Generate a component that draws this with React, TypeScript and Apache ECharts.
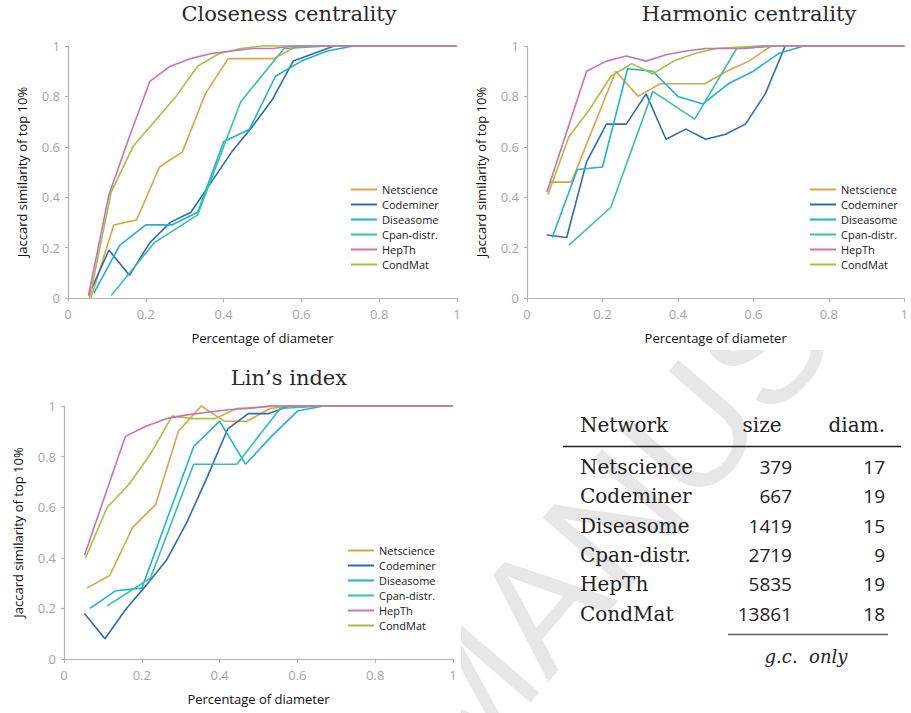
import React, { useEffect, useRef } from "react";
import * as echarts from "echarts";

// ---- Table data ----
const networks = ["Netscience", "Codeminer", "Diseasome", "Cpan-distr.", "HepTh", "CondMat"];
const sizes = [379, 667, 1419, 2719, 5835, 13861];
const diameters = [17, 19, 15, 9, 19, 18];
const colors = ["#D9A548", "#2E6BB5", "#1DB3D4", "#35C2A5", "#CF6FB8", "#A6C23E"];
const xTicks = [0, 0.2, 0.4, 0.6, 0.8, 1];

// ---- Closeness centrality (value at k/diameter, k = 1..diameter) ----
const closeNetscience = [0, 0.29, 0.31, 0.52, 0.58, 0.81, 0.95, 0.95, 0.95, 1, 1, 1, 1, 1, 1, 1, 1];
const closeCodeminer = [0.01, 0.19, 0.09, 0.22, 0.3, 0.34, 0.46, 0.58, 0.68, 0.79, 0.94, 0.97, 1, 1, 1, 1, 1, 1, 1];
const closeDiseasome = [0.02, 0.21, 0.29, 0.29, 0.34, 0.62, 0.67, 0.88, 0.94, 0.98, 1, 1, 1, 1, 1];
const closeCpan = [0.01, 0.22, 0.33, 0.78, 0.99, 1, 1, 1, 1];
const closeHepTh = [0.01, 0.41, 0.64, 0.86, 0.92, 0.95, 0.97, 0.98, 0.99, 0.99, 1, 1, 1, 1, 1, 1, 1, 1, 1];
const closeCondMat = [0, 0.42, 0.6, 0.7, 0.8, 0.92, 0.97, 0.99, 1, 1, 1, 1, 1, 1, 1, 1, 1, 1];

// ---- Harmonic centrality ----
const harmNetscience = [0.46, 0.46, 0.68, 0.9, 0.8, 0.85, 0.85, 0.85, 0.9, 0.94, 1, 1, 1, 1, 1, 1, 1];
const harmCodeminer = [0.25, 0.24, 0.54, 0.69, 0.69, 0.81, 0.63, 0.67, 0.63, 0.65, 0.69, 0.81, 1, 1, 1, 1, 1, 1, 1];
const harmDiseasome = [0.24, 0.51, 0.52, 0.91, 0.9, 0.8, 0.77, 0.85, 0.9, 0.97, 1, 1, 1, 1, 1];
const harmCpan = [0.21, 0.36, 0.82, 0.71, 0.99, 1, 1, 1, 1];
const harmHepTh = [0.42, 0.66, 0.9, 0.94, 0.96, 0.94, 0.965, 0.98, 0.99, 0.99, 0.99, 1, 1, 1, 1, 1, 1, 1, 1];
const harmCondMat = [0.41, 0.64, 0.75, 0.88, 0.93, 0.89, 0.94, 0.97, 0.99, 0.995, 1, 1, 1, 1, 1, 1, 1, 1];

// ---- Lin's index ----
const linNetscience = [0.28, 0.33, 0.52, 0.61, 0.9, 1.0, 0.94, 0.94, 0.99, 1, 1, 1, 1, 1, 1, 1, 1];
const linCodeminer = [0.18, 0.08, 0.195, 0.29, 0.39, 0.54, 0.72, 0.91, 0.97, 0.97, 1, 1, 1, 1, 1, 1, 1, 1, 1];
const linDiseasome = [0.2, 0.27, 0.28, 0.56, 0.84, 0.94, 0.77, 0.88, 0.98, 1, 1, 1, 1, 1, 1];
const linCpan = [0.21, 0.32, 0.77, 0.77, 0.99, 1, 1, 1, 1];
const linHepTh = [0.41, 0.645, 0.88, 0.92, 0.95, 0.965, 0.975, 0.985, 0.99, 1, 1, 1, 1, 1, 1, 1, 1, 1, 1];
const linCondMat = [0.4, 0.6, 0.69, 0.81, 0.96, 0.95, 0.95, 0.99, 0.995, 1, 1, 1, 1, 1, 1, 1, 1, 1];

const chartTitles = ["Closeness centrality", "Harmonic centrality", "Lin\u2019s index"];
const chartData = [
  [closeNetscience, closeCodeminer, closeDiseasome, closeCpan, closeHepTh, closeCondMat],
  [harmNetscience, harmCodeminer, harmDiseasome, harmCpan, harmHepTh, harmCondMat],
  [linNetscience, linCodeminer, linDiseasome, linCpan, linHepTh, linCondMat],
];

const AXIS = "#b3b3b3";
const LABEL = "#a6a6a6";
const SANS = "Open Sans";
const SERIF = "DejaVu Serif";

export default function App() {
  const ref = useRef<HTMLDivElement>(null);

  useEffect(() => {
    if (!ref.current) return;
    const chart = echarts.init(ref.current, undefined, { renderer: "svg" });

    const grids = [
      { left: 68, top: 46, width: 389, height: 252 },
      { left: 527, top: 46, width: 388, height: 252 },
      { left: 64, top: 406, width: 389, height: 253 },
    ];

    const xAxis = grids.map((_, i) => ({
      type: "value",
      gridIndex: i,
      min: xTicks[0],
      max: xTicks[xTicks.length - 1],
      interval: 0.2,
      name: "Percentage of diameter",
      nameLocation: "middle",
      nameGap: 33,
      nameTextStyle: { color: "#111", fontSize: 13, fontFamily: SANS },
      axisLine: { show: true, lineStyle: { color: AXIS, width: 1.2 } },
      axisTick: { show: true, length: 4, lineStyle: { color: AXIS, width: 1.2 } },
      axisLabel: { color: LABEL, fontSize: 13, margin: 9, fontFamily: SANS },
      splitLine: { show: false },
      z: 3,
    }));

    const yAxis = grids.map((_, i) => ({
      type: "value",
      gridIndex: i,
      min: 0,
      max: 1,
      interval: 0.2,
      name: "Jaccard similarity of top 10%",
      nameLocation: "middle",
      nameGap: 40,
      nameRotate: 90,
      nameTextStyle: { color: "#111", fontSize: 13, fontFamily: SANS },
      axisLine: { show: true, lineStyle: { color: AXIS, width: 1.2 } },
      axisTick: { show: true, length: 3, lineStyle: { color: AXIS, width: 1.2 } },
      axisLabel: { color: LABEL, fontSize: 13, margin: 8, fontFamily: SANS },
      splitLine: { show: false },
      z: 3,
    }));

    const legendPos = [
      { left: 351, top: 182 },
      { left: 810, top: 182 },
      { left: 348, top: 543 },
    ];

    const legend = legendPos.map((p) => ({
      orient: "vertical",
      left: p.left,
      top: p.top,
      padding: 0,
      icon: "rect",
      itemWidth: 26,
      itemHeight: 2,
      itemGap: 0,
      selectedMode: false,
      textStyle: { fontSize: 11, color: "#1a1a1a", lineHeight: 15, fontFamily: SANS },
      data: networks,
      z: 6,
    }));

    const series: any[] = [];
    chartData.forEach((set, ci) => {
      set.forEach((vals, si) => {
        series.push({
          type: "line",
          name: networks[si],
          xAxisIndex: ci,
          yAxisIndex: ci,
          data: vals.map((v, k) => [(k + 1) / diameters[si], v]),
          showSymbol: false,
          symbol: "none",
          clip: false,
          color: colors[si],
          lineStyle: { width: 1.6, color: colors[si] },
          itemStyle: { color: colors[si] },
          z: networks[si] === "HepTh" ? 5 : 4,
        });
      });
    });

    const titlePos = [
      { x: 289, y: 14 },
      { x: 749, y: 14 },
      { x: 289, y: 378 },
    ];

    const graphic: any[] = [];
    // watermark
    graphic.push({
      type: "text",
      x: 608,
      y: 526,
      rotation: 0.86,
      z: 0,
      silent: true,
      style: {
        text: "MANUS",
        fontSize: 162,
        fontFamily: "Liberation Sans",
        fill: "#e7e7e7",
        align: "center",
        verticalAlign: "middle",
      },
    });
    // white panels (charts sit above the watermark)
    graphic.push({ type: "rect", z: 1, silent: true, shape: { x: 0, y: 362, width: 461, height: 351 }, style: { fill: "#fff" } });
    graphic.push({ type: "rect", z: 1, silent: true, shape: { x: 470, y: 0, width: 441, height: 350 }, style: { fill: "#fff" } });

    chartTitles.forEach((t, i) => {
      graphic.push({
        type: "text",
        x: titlePos[i].x,
        y: titlePos[i].y,
        z: 10,
        style: { text: t, fontSize: 21, fontFamily: SERIF, fill: "#2a2a2a", align: "center", verticalAlign: "middle" },
      });
    });

    // table
    const rowY0 = 467;
    const rowStep = 29.3;
    const nameX = 580;
    const sizeRight = 792;
    const diamRight = 885;
    graphic.push({ type: "text", x: nameX, y: 425, z: 10, style: { text: "Network", fontSize: 20, fontFamily: SERIF, fill: "#222", align: "left", verticalAlign: "middle" } });
    graphic.push({ type: "text", x: 762, y: 425, z: 10, style: { text: "size", fontSize: 20, fontFamily: SERIF, fill: "#222", align: "center", verticalAlign: "middle" } });
    graphic.push({ type: "text", x: diamRight, y: 425, z: 10, style: { text: "diam.", fontSize: 20, fontFamily: SERIF, fill: "#222", align: "right", verticalAlign: "middle" } });
    graphic.push({ type: "line", z: 10, shape: { x1: 563, y1: 446.5, x2: 901, y2: 446.5 }, style: { stroke: "#222", lineWidth: 1.3 } });
    networks.forEach((n, i) => {
      const y = rowY0 + i * rowStep;
      graphic.push({ type: "text", x: nameX, y, z: 10, style: { text: n, fontSize: 20, fontFamily: SERIF, fill: "#222", align: "left", verticalAlign: "middle" } });
      graphic.push({ type: "text", x: sizeRight, y, z: 10, style: { text: String(sizes[i]), fontSize: 19, fontFamily: SANS, fill: "#222", align: "right", verticalAlign: "middle" } });
      graphic.push({ type: "text", x: diamRight, y, z: 10, style: { text: String(diameters[i]), fontSize: 19, fontFamily: SANS, fill: "#222", align: "right", verticalAlign: "middle" } });
    });
    graphic.push({ type: "line", z: 10, shape: { x1: 728, y1: 634.5, x2: 888, y2: 634.5 }, style: { stroke: "#666", lineWidth: 1.3 } });
    graphic.push({ type: "text", x: 806, y: 656, z: 10, style: { text: "g.c.  only", fontSize: 18, fontStyle: "italic", fontFamily: SERIF, fill: "#222", align: "center", verticalAlign: "middle" } });

    chart.setOption({
      animation: false,
      backgroundColor: "#ffffff",
      grid: grids,
      xAxis,
      yAxis,
      legend,
      series,
      graphic,
    });

    return () => chart.dispose();
  }, []);

  return (
    <div
      ref={ref}
      style={{ position: "absolute", left: 0, top: 0, width: 911, height: 713, background: "#fff" }}
    />
  );
}
